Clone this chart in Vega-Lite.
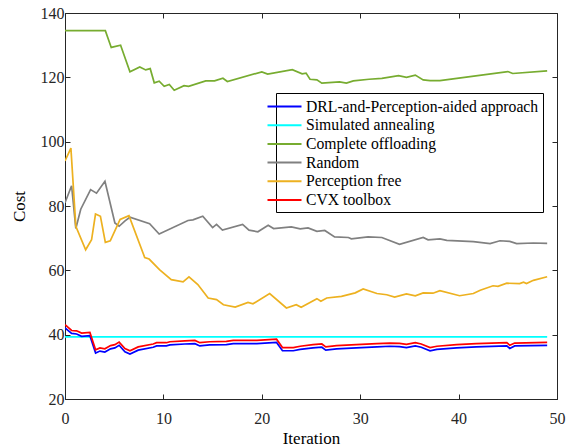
{
  "$schema": "https://vega.github.io/schema/vega-lite/v6.json",
  "width": 492,
  "height": 386,
  "autosize": {"type": "none"},
  "padding": {"left": 65, "top": 13, "right": 11, "bottom": 48},
  "background": "white",
  "config": {"view": {"stroke": "#262626", "strokeWidth": 1}, "font": "Liberation Serif"},
  "data": {"values": [
    {"s":"Complete offloading","x":0,"y":134.5},{"s":"Complete offloading","x":4.1,"y":134.5},{"s":"Complete offloading","x":4.7,"y":129.3},{"s":"Complete offloading","x":5.65,"y":130},{"s":"Complete offloading","x":6.6,"y":121.7},{"s":"Complete offloading","x":7.6,"y":123.2},{"s":"Complete offloading","x":8.2,"y":122.3},{"s":"Complete offloading","x":8.66,"y":122.7},{"s":"Complete offloading","x":9.07,"y":118.3},{"s":"Complete offloading","x":9.57,"y":118.8},{"s":"Complete offloading","x":10.08,"y":117.2},{"s":"Complete offloading","x":10.6,"y":117.8},{"s":"Complete offloading","x":11.1,"y":116},{"s":"Complete offloading","x":12.1,"y":117.4},{"s":"Complete offloading","x":12.56,"y":117.2},{"s":"Complete offloading","x":14.3,"y":118.9},{"s":"Complete offloading","x":15.2,"y":118.9},{"s":"Complete offloading","x":16.05,"y":119.7},{"s":"Complete offloading","x":16.5,"y":118.7},{"s":"Complete offloading","x":20.0,"y":121.7},{"s":"Complete offloading","x":20.6,"y":121},{"s":"Complete offloading","x":23.1,"y":122.4},{"s":"Complete offloading","x":24.1,"y":121.1},{"s":"Complete offloading","x":24.5,"y":121.3},{"s":"Complete offloading","x":24.9,"y":119.4},{"s":"Complete offloading","x":25.6,"y":119.2},{"s":"Complete offloading","x":26.1,"y":118.2},{"s":"Complete offloading","x":27.9,"y":118.6},{"s":"Complete offloading","x":28.6,"y":118.2},{"s":"Complete offloading","x":29.3,"y":118.9},{"s":"Complete offloading","x":30.9,"y":119.4},{"s":"Complete offloading","x":32.2,"y":119.7},{"s":"Complete offloading","x":33.9,"y":120.5},{"s":"Complete offloading","x":34.7,"y":120},{"s":"Complete offloading","x":35.6,"y":120.7},{"s":"Complete offloading","x":36.4,"y":119.2},{"s":"Complete offloading","x":37.1,"y":119},{"s":"Complete offloading","x":38.1,"y":119},{"s":"Complete offloading","x":45.0,"y":121.8},{"s":"Complete offloading","x":45.5,"y":121.2},{"s":"Complete offloading","x":49,"y":122},
    {"s":"Random","x":0,"y":81},{"s":"Random","x":0.67,"y":86.3},{"s":"Random","x":1.1,"y":73},{"s":"Random","x":1.6,"y":79},{"s":"Random","x":2.6,"y":85.1},{"s":"Random","x":3.2,"y":84},{"s":"Random","x":4.06,"y":87.7},{"s":"Random","x":5.07,"y":74.7},{"s":"Random","x":5.5,"y":73.7},{"s":"Random","x":6.1,"y":75.4},{"s":"Random","x":6.6,"y":76.5},{"s":"Random","x":8.6,"y":74.5},{"s":"Random","x":9.57,"y":71.3},{"s":"Random","x":12.5,"y":75.5},{"s":"Random","x":13.0,"y":75.7},{"s":"Random","x":14.0,"y":76.8},{"s":"Random","x":15.0,"y":73.3},{"s":"Random","x":15.4,"y":74.3},{"s":"Random","x":16.0,"y":72.5},{"s":"Random","x":18.05,"y":74.3},{"s":"Random","x":18.7,"y":72.5},{"s":"Random","x":19.6,"y":72.0},{"s":"Random","x":20.65,"y":74},{"s":"Random","x":21.2,"y":73},{"s":"Random","x":23.0,"y":73.5},{"s":"Random","x":23.9,"y":72.9},{"s":"Random","x":24.7,"y":73.2},{"s":"Random","x":25.6,"y":72.1},{"s":"Random","x":26.4,"y":72.4},{"s":"Random","x":27.4,"y":70.4},{"s":"Random","x":28.8,"y":70.2},{"s":"Random","x":29.1,"y":69.8},{"s":"Random","x":30.8,"y":70.4},{"s":"Random","x":32.2,"y":70.2},{"s":"Random","x":34.0,"y":68.1},{"s":"Random","x":36.4,"y":70.2},{"s":"Random","x":36.9,"y":69.5},{"s":"Random","x":38.1,"y":69.8},{"s":"Random","x":38.8,"y":69.3},{"s":"Random","x":41.5,"y":68.9},{"s":"Random","x":43.2,"y":68.3},{"s":"Random","x":44.2,"y":69.2},{"s":"Random","x":45.2,"y":69.0},{"s":"Random","x":45.9,"y":68.3},{"s":"Random","x":47.6,"y":68.5},{"s":"Random","x":49,"y":68.4},
    {"s":"Perception free","x":0,"y":94},{"s":"Perception free","x":0.6,"y":98},{"s":"Perception free","x":1.1,"y":73.7},{"s":"Perception free","x":2.1,"y":66.4},{"s":"Perception free","x":2.7,"y":69.5},{"s":"Perception free","x":3.1,"y":77.5},{"s":"Perception free","x":3.6,"y":76.8},{"s":"Perception free","x":4.1,"y":68.7},{"s":"Perception free","x":4.6,"y":69.2},{"s":"Perception free","x":5.6,"y":75.8},{"s":"Perception free","x":6.5,"y":77},{"s":"Perception free","x":8.1,"y":64},{"s":"Perception free","x":8.55,"y":63.5},{"s":"Perception free","x":9.6,"y":60.2},{"s":"Perception free","x":10.8,"y":57.1},{"s":"Perception free","x":12.0,"y":56.4},{"s":"Perception free","x":12.6,"y":58},{"s":"Perception free","x":13.5,"y":55.6},{"s":"Perception free","x":14.55,"y":51.4},{"s":"Perception free","x":15.4,"y":50.9},{"s":"Perception free","x":16.1,"y":49.3},{"s":"Perception free","x":17.3,"y":48.6},{"s":"Perception free","x":18.6,"y":50},{"s":"Perception free","x":19.1,"y":49.6},{"s":"Perception free","x":20.8,"y":52.8},{"s":"Perception free","x":22.5,"y":48.3},{"s":"Perception free","x":23.5,"y":49.3},{"s":"Perception free","x":24.0,"y":48.5},{"s":"Perception free","x":24.9,"y":50.0},{"s":"Perception free","x":25.6,"y":51.2},{"s":"Perception free","x":26.0,"y":50.4},{"s":"Perception free","x":26.6,"y":51.4},{"s":"Perception free","x":28.1,"y":51.9},{"s":"Perception free","x":29.5,"y":53},{"s":"Perception free","x":30.3,"y":54.2},{"s":"Perception free","x":31.7,"y":52.8},{"s":"Perception free","x":32.7,"y":52.4},{"s":"Perception free","x":33.5,"y":51.7},{"s":"Perception free","x":34.7,"y":52.7},{"s":"Perception free","x":35.6,"y":52.1},{"s":"Perception free","x":36.4,"y":53},{"s":"Perception free","x":37.4,"y":52.9},{"s":"Perception free","x":38.1,"y":53.7},{"s":"Perception free","x":40.1,"y":52.1},{"s":"Perception free","x":41.5,"y":52.8},{"s":"Perception free","x":42.2,"y":53.8},{"s":"Perception free","x":43.5,"y":55.2},{"s":"Perception free","x":44.0,"y":55},{"s":"Perception free","x":44.9,"y":56},{"s":"Perception free","x":46.2,"y":55.9},{"s":"Perception free","x":46.6,"y":56.3},{"s":"Perception free","x":46.9,"y":55.9},{"s":"Perception free","x":47.6,"y":56.9},{"s":"Perception free","x":49,"y":58},
    {"s":"Simulated annealing","x":0,"y":39.3},{"s":"Simulated annealing","x":49,"y":39.3},
    {"s":"DRL-and-Perception-aided approach","x":0,"y":42.1},{"s":"DRL-and-Perception-aided approach","x":0.67,"y":40.4},{"s":"DRL-and-Perception-aided approach","x":1.18,"y":40.2},{"s":"DRL-and-Perception-aided approach","x":1.69,"y":39.5},{"s":"DRL-and-Perception-aided approach","x":2.53,"y":39.7},{"s":"DRL-and-Perception-aided approach","x":3.11,"y":34.3},{"s":"DRL-and-Perception-aided approach","x":3.55,"y":34.9},{"s":"DRL-and-Perception-aided approach","x":4.05,"y":34.6},{"s":"DRL-and-Perception-aided approach","x":4.63,"y":35.6},{"s":"DRL-and-Perception-aided approach","x":5.07,"y":35.9},{"s":"DRL-and-Perception-aided approach","x":5.5,"y":36.7},{"s":"DRL-and-Perception-aided approach","x":6.09,"y":34.7},{"s":"DRL-and-Perception-aided approach","x":6.6,"y":34.0},{"s":"DRL-and-Perception-aided approach","x":7.44,"y":35.2},{"s":"DRL-and-Perception-aided approach","x":8.96,"y":36.1},{"s":"DRL-and-Perception-aided approach","x":9.31,"y":36.5},{"s":"DRL-and-Perception-aided approach","x":10.3,"y":36.5},{"s":"DRL-and-Perception-aided approach","x":10.66,"y":36.8},{"s":"DRL-and-Perception-aided approach","x":12.18,"y":37.1},{"s":"DRL-and-Perception-aided approach","x":13.2,"y":37.2},{"s":"DRL-and-Perception-aided approach","x":13.7,"y":36.5},{"s":"DRL-and-Perception-aided approach","x":14.7,"y":36.8},{"s":"DRL-and-Perception-aided approach","x":16.4,"y":36.9},{"s":"DRL-and-Perception-aided approach","x":17.1,"y":37.2},{"s":"DRL-and-Perception-aided approach","x":19.5,"y":37.2},{"s":"DRL-and-Perception-aided approach","x":21.5,"y":37.6},{"s":"DRL-and-Perception-aided approach","x":22.1,"y":35.0},{"s":"DRL-and-Perception-aided approach","x":23.2,"y":35.0},{"s":"DRL-and-Perception-aided approach","x":23.9,"y":35.4},{"s":"DRL-and-Perception-aided approach","x":25.2,"y":35.9},{"s":"DRL-and-Perception-aided approach","x":26.1,"y":36.1},{"s":"DRL-and-Perception-aided approach","x":26.5,"y":35.2},{"s":"DRL-and-Perception-aided approach","x":27.6,"y":35.6},{"s":"DRL-and-Perception-aided approach","x":29.6,"y":35.9},{"s":"DRL-and-Perception-aided approach","x":31.7,"y":36.2},{"s":"DRL-and-Perception-aided approach","x":33.0,"y":36.4},{"s":"DRL-and-Perception-aided approach","x":34.0,"y":36.3},{"s":"DRL-and-Perception-aided approach","x":34.7,"y":36.0},{"s":"DRL-and-Perception-aided approach","x":35.6,"y":36.5},{"s":"DRL-and-Perception-aided approach","x":36.2,"y":36.1},{"s":"DRL-and-Perception-aided approach","x":37.1,"y":35.0},{"s":"DRL-and-Perception-aided approach","x":37.8,"y":35.4},{"s":"DRL-and-Perception-aided approach","x":39.8,"y":35.9},{"s":"DRL-and-Perception-aided approach","x":41.8,"y":36.2},{"s":"DRL-and-Perception-aided approach","x":44.9,"y":36.5},{"s":"DRL-and-Perception-aided approach","x":45.2,"y":35.7},{"s":"DRL-and-Perception-aided approach","x":45.7,"y":36.5},{"s":"DRL-and-Perception-aided approach","x":49,"y":36.7},
    {"s":"CVX toolbox","x":0,"y":43.1},{"s":"CVX toolbox","x":0.67,"y":41.3},{"s":"CVX toolbox","x":1.18,"y":41.2},{"s":"CVX toolbox","x":1.69,"y":40.5},{"s":"CVX toolbox","x":2.53,"y":40.7},{"s":"CVX toolbox","x":3.11,"y":35.3},{"s":"CVX toolbox","x":3.55,"y":35.9},{"s":"CVX toolbox","x":4.05,"y":35.6},{"s":"CVX toolbox","x":4.63,"y":36.6},{"s":"CVX toolbox","x":5.07,"y":36.9},{"s":"CVX toolbox","x":5.5,"y":37.7},{"s":"CVX toolbox","x":6.09,"y":35.7},{"s":"CVX toolbox","x":6.6,"y":35.0},{"s":"CVX toolbox","x":7.44,"y":36.2},{"s":"CVX toolbox","x":8.96,"y":37.1},{"s":"CVX toolbox","x":9.31,"y":37.5},{"s":"CVX toolbox","x":10.3,"y":37.5},{"s":"CVX toolbox","x":10.66,"y":37.8},{"s":"CVX toolbox","x":12.18,"y":38.1},{"s":"CVX toolbox","x":13.2,"y":38.2},{"s":"CVX toolbox","x":13.7,"y":37.5},{"s":"CVX toolbox","x":14.7,"y":37.8},{"s":"CVX toolbox","x":16.4,"y":37.9},{"s":"CVX toolbox","x":17.1,"y":38.2},{"s":"CVX toolbox","x":19.5,"y":38.2},{"s":"CVX toolbox","x":21.5,"y":38.6},{"s":"CVX toolbox","x":22.1,"y":36.0},{"s":"CVX toolbox","x":23.2,"y":36.0},{"s":"CVX toolbox","x":23.9,"y":36.4},{"s":"CVX toolbox","x":25.2,"y":36.9},{"s":"CVX toolbox","x":26.1,"y":37.1},{"s":"CVX toolbox","x":26.5,"y":36.2},{"s":"CVX toolbox","x":27.6,"y":36.6},{"s":"CVX toolbox","x":29.6,"y":36.9},{"s":"CVX toolbox","x":31.7,"y":37.2},{"s":"CVX toolbox","x":33.0,"y":37.4},{"s":"CVX toolbox","x":34.0,"y":37.3},{"s":"CVX toolbox","x":34.7,"y":37.0},{"s":"CVX toolbox","x":35.6,"y":37.5},{"s":"CVX toolbox","x":36.2,"y":37.1},{"s":"CVX toolbox","x":37.1,"y":36.0},{"s":"CVX toolbox","x":37.8,"y":36.4},{"s":"CVX toolbox","x":39.8,"y":36.9},{"s":"CVX toolbox","x":41.8,"y":37.2},{"s":"CVX toolbox","x":44.9,"y":37.5},{"s":"CVX toolbox","x":45.2,"y":36.7},{"s":"CVX toolbox","x":45.7,"y":37.4},{"s":"CVX toolbox","x":49,"y":37.6}
  ]},
  "layer": [
    {
      "mark": {"type": "line", "strokeWidth": 1.7, "clip": true},
      "encoding": {
        "x": {"field": "x", "type": "quantitative",
          "scale": {"domain": [0, 50], "nice": false, "zero": false},
          "axis": {"orient": "bottom", "values": [0, 10, 20, 30, 40, 50], "title": "Iteration", "grid": false,
            "titleFont": "Liberation Serif", "titleFontSize": 17, "titleFontWeight": "normal", "titleColor": "black", "titlePadding": 4,
            "labelFont": "Liberation Serif", "labelFontSize": 16, "labelColor": "#262626", "labelPadding": 16, "labelFlush": false, "labelOverlap": false,
            "tickSize": -5, "tickColor": "#262626", "domainColor": "#262626"}},
        "y": {"field": "y", "type": "quantitative",
          "scale": {"domain": [20, 140], "nice": false, "zero": false},
          "axis": {"orient": "left", "values": [20, 40, 60, 80, 100, 120, 140], "title": "Cost", "grid": false,
            "titleFont": "Liberation Serif", "titleFontSize": 17, "titleFontWeight": "normal", "titleColor": "black", "titlePadding": 12,
            "labelFont": "Liberation Serif", "labelFontSize": 16, "labelColor": "#262626", "labelPadding": 6, "labelFlush": false, "labelOverlap": false,
            "tickSize": -5, "tickColor": "#262626", "domainColor": "#262626"}},
        "color": {"field": "s", "type": "nominal",
          "scale": {"domain": ["DRL-and-Perception-aided approach", "Simulated annealing", "Complete offloading", "Random", "Perception free", "CVX toolbox"],
                    "range": ["#0000FF", "#00FFFF", "#77AC30", "#808080", "#EDB120", "#FF0000"]},
          "legend": {"orient": "none", "legendX": 211, "legendY": 80, "title": null,
            "fillColor": "white", "strokeColor": "black", "padding": 4,
            "labelFont": "Liberation Serif", "labelFontSize": 15.7, "labelColor": "black", "labelLimit": 400,
            "symbolType": "M-2,0L2,0", "symbolSize": 289, "symbolStrokeWidth": 2, "symbolOffset": -5,
            "labelOffset": 12, "rowPadding": 0.7}}
      }
    },
    {
      "mark": {"type": "line", "opacity": 0},
      "encoding": {
        "x": {"field": "x", "type": "quantitative",
          "axis": {"orient": "top", "values": [0, 10, 20, 30, 40, 50], "labels": false, "title": null, "grid": false, "domain": false,
            "tickSize": -5, "tickColor": "#262626"}},
        "y": {"field": "y", "type": "quantitative",
          "axis": {"orient": "right", "values": [20, 40, 60, 80, 100, 120, 140], "labels": false, "title": null, "grid": false, "domain": false,
            "tickSize": -5, "tickColor": "#262626"}}
      }
    }
  ],
  "resolve": {"axis": {"x": "independent", "y": "independent"}}
}
